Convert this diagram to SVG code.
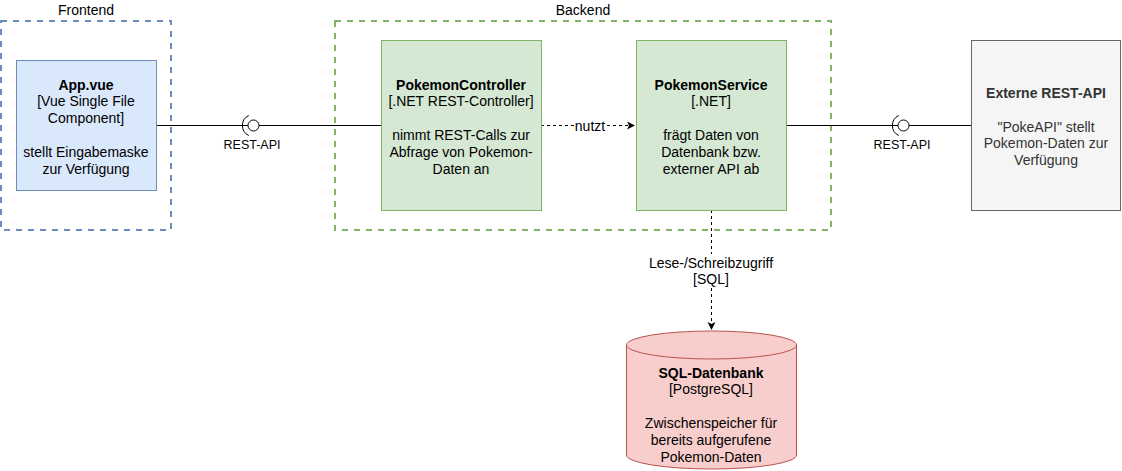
<svg xmlns="http://www.w3.org/2000/svg" width="1122" height="471" viewBox="0 0 1122 471">
<style>
text{font-family:"Liberation Sans",Arial,sans-serif;font-size:14px;text-anchor:middle;fill:#000}
.b{font-weight:bold}
.g{fill:#333333}
.s{font-size:12.5px}
.c{fill:none;stroke:#000;stroke-width:1}
.d{stroke-dasharray:3,3}
</style>
<defs>
<marker id="arr" markerWidth="10" markerHeight="10" refX="8" refY="4" orient="auto" markerUnits="userSpaceOnUse">
<path d="M0,0 L8,4 L0,8 L2,4 Z" fill="#000"/>
</marker>
</defs>
<rect width="1122" height="471" fill="#fff"/>
<g id="frontend">
<rect x="1" y="21" width="170" height="209" fill="none" stroke="#6c8ebf" stroke-width="2" stroke-dasharray="6,6"/>
<text x="86" y="15">Frontend</text>
</g>
<g id="backend">
<rect x="335" y="21" width="496" height="209" fill="none" stroke="#82b366" stroke-width="2" stroke-dasharray="6,6"/>
<text x="583" y="15">Backend</text>
</g>
<g id="connectors">
<path class="c" d="M156,125.5 H248 M259,125.5 H381"/>
<circle cx="253.5" cy="125.5" r="5.5" fill="none" stroke="#000"/>
<path class="c" d="M248.8,115.5 A11,11 0 0 0 248.8,135.5"/>
<path class="c" d="M786,125.5 H898 M909,125.5 H971"/>
<circle cx="903.5" cy="125.5" r="5.5" fill="none" stroke="#000"/>
<path class="c" d="M898.8,115.5 A11,11 0 0 0 898.8,135.5"/>
<text x="252" y="149" class="s">REST-API</text>
<text x="902" y="149" class="s">REST-API</text>
<path class="c d" d="M541,125.5 H635" marker-end="url(#arr)"/>
<rect x="574" y="117" width="32" height="16" fill="#fff"/>
<text x="590" y="130.5">nutzt</text>
<path class="c d" d="M711.5,210 V330" marker-end="url(#arr)"/>
<rect x="647" y="254" width="128" height="34" fill="#fff"/>
<text x="711" y="267.5">Lese-/Schreibzugriff</text>
<text x="711" y="284.3">[SQL]</text>
</g>
<g id="app-vue">
<rect x="16.5" y="60.5" width="140" height="130" fill="#dae8fc" stroke="#6c8ebf"/>
<text x="86" y="89.5" class="b">App.vue</text>
<text x="86" y="106.3">[Vue Single File</text>
<text x="86" y="123.1">Component]</text>
<text x="86" y="156.7">stellt Eingabemaske</text>
<text x="86" y="173.5">zur Verfügung</text>
</g>
<g id="pokemon-controller">
<rect x="381.5" y="40.5" width="160" height="170" fill="#d5e8d4" stroke="#82b366"/>
<text x="461" y="89.5" class="b">PokemonController</text>
<text x="461" y="106.3">[.NET REST-Controller]</text>
<text x="461" y="139.9">nimmt REST-Calls zur</text>
<text x="461" y="156.7">Abfrage von Pokemon-</text>
<text x="461" y="173.5">Daten an</text>
</g>
<g id="pokemon-service">
<rect x="636.5" y="40.5" width="150" height="170" fill="#d5e8d4" stroke="#82b366"/>
<text x="711" y="89.5" class="b">PokemonService</text>
<text x="711" y="106.3">[.NET]</text>
<text x="711" y="139.9">frägt Daten von</text>
<text x="711" y="156.7">Datenbank bzw.</text>
<text x="711" y="173.5">externer API ab</text>
</g>
<g id="externe-rest-api">
<rect x="971.5" y="40.5" width="149" height="170" fill="#f5f5f5" stroke="#666666"/>
<text x="1046" y="98" class="b g">Externe REST-API</text>
<text x="1046" y="131.6" class="g">"PokeAPI" stellt</text>
<text x="1046" y="148.4" class="g">Pokemon-Daten zur</text>
<text x="1046" y="165.2" class="g">Verfügung</text>
</g>
<g id="sql-datenbank">
<path d="M626.5,345 A85,14 0 0 1 796.5,345 V455 A85,14 0 0 1 626.5,455 Z" fill="#f8cecc" stroke="#b85450"/>
<path d="M626.5,345 A85,14 0 0 0 796.5,345" fill="none" stroke="#b85450"/>
<text x="711" y="377.5" class="b">SQL-Datenbank</text>
<text x="711" y="394.3">[PostgreSQL]</text>
<text x="711" y="427.9">Zwischenspeicher für</text>
<text x="711" y="444.7">bereits aufgerufene</text>
<text x="711" y="461.5">Pokemon-Daten</text>
</g>
</svg>
